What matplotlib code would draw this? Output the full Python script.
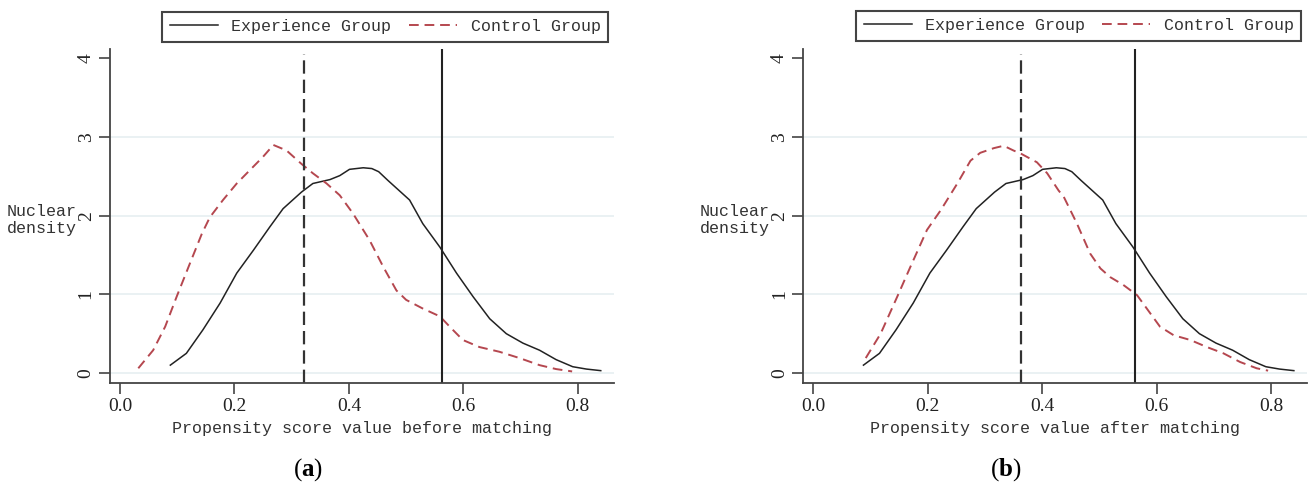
import numpy as np
import matplotlib.pyplot as plt

plt.rcParams['mathtext.fontset'] = 'custom'
plt.rcParams['mathtext.rm'] = 'Liberation Serif'
plt.rcParams['mathtext.bf'] = 'Liberation Serif:bold'

# experience group density (same curve in both panels)
exp_x = [0.088, 0.116, 0.145, 0.175, 0.204, 0.233, 0.262, 0.285, 0.317, 0.337, 0.367,
         0.384, 0.401, 0.425, 0.440, 0.452, 0.468, 0.506, 0.529, 0.559, 0.588, 0.617,
         0.646, 0.675, 0.704, 0.733, 0.762, 0.791, 0.815, 0.840]
exp_y = [0.10, 0.25, 0.55, 0.89, 1.27, 1.56, 1.86, 2.09, 2.30, 2.41, 2.46,
         2.51, 2.59, 2.61, 2.60, 2.56, 2.45, 2.20, 1.90, 1.60, 1.27, 0.97,
         0.69, 0.50, 0.38, 0.29, 0.17, 0.08, 0.05, 0.03]

# control group before matching
ctl_a_x = [0.032, 0.058, 0.079, 0.099, 0.122, 0.143, 0.157, 0.180, 0.204, 0.227, 0.250,
           0.268, 0.291, 0.317, 0.337, 0.361, 0.384, 0.407, 0.436, 0.460, 0.483, 0.500,
           0.529, 0.559, 0.576, 0.599, 0.628, 0.663, 0.698, 0.733, 0.762, 0.790]
ctl_a_y = [0.06, 0.29, 0.59, 0.97, 1.39, 1.77, 1.98, 2.20, 2.41, 2.58, 2.75,
           2.90, 2.83, 2.66, 2.54, 2.41, 2.26, 2.03, 1.69, 1.35, 1.05, 0.93,
           0.82, 0.72, 0.59, 0.42, 0.33, 0.27, 0.19, 0.10, 0.05, 0.02]

# control group after matching
ctl_b_x = [0.092, 0.118, 0.147, 0.170, 0.199, 0.223, 0.252, 0.275, 0.292, 0.316, 0.333,
           0.350, 0.363, 0.391, 0.409, 0.429, 0.438, 0.461, 0.484, 0.502, 0.519, 0.542,
           0.566, 0.583, 0.606, 0.630, 0.659, 0.688, 0.717, 0.746, 0.775, 0.795]
ctl_b_y = [0.19, 0.50, 0.97, 1.35, 1.82, 2.07, 2.41, 2.70, 2.80, 2.86, 2.89,
           2.83, 2.79, 2.68, 2.54, 2.32, 2.24, 1.90, 1.52, 1.33, 1.22, 1.12,
           0.99, 0.82, 0.59, 0.48, 0.42, 0.33, 0.25, 0.14, 0.06, 0.03]

exp_mean = 0.562
ctl_mean_a = 0.322
ctl_mean_b = 0.363

red = '#b5474f'
mono = 'Liberation Mono'
serif = 'Liberation Serif'

fig = plt.figure(figsize=(13.09, 4.84), dpi=100)

panels = [
    (0.084, ctl_a_x, ctl_a_y, ctl_mean_a, 'Propensity score value before matching',
     (0.1238, 0.911, 0.3407, 0.068), r'($\mathbf{a}$)', 0.235),
    (0.6135, ctl_b_x, ctl_b_y, ctl_mean_b, 'Propensity score value after matching',
     (0.654, 0.913, 0.340, 0.068), r'($\mathbf{b}$)', 0.768),
]

for left, cx, cy, cmean, xlabel, legbox, cap, capx in panels:
    ax = fig.add_axes([left, 0.2087, 0.385, 0.690])
    for g in [0, 1, 2, 3]:
        ax.axhline(g, color='#e6eff1', lw=1.2, zorder=0)
    l1, = ax.plot(exp_x, exp_y, color='#222222', lw=1.1, label='Experience Group',
                  solid_joinstyle='round')
    l2, = ax.plot(cx, cy, color=red, lw=1.4, ls=(0, (5, 3)), label='Control Group')
    ax.axvline(cmean, color='#333333', lw=1.6, ls=(0, (6, 2.7)), ymax=0.985)
    ax.axvline(exp_mean, color='#222222', lw=1.5, ymax=1.0)

    ax.set_xlim(-0.0175, 0.863)
    ax.set_ylim(-0.127, 4.12)
    ax.set_xticks([0.0, 0.2, 0.4, 0.6, 0.8])
    ax.set_xticklabels(['0.0', '0.2', '0.4', '0.6', '0.8'], fontfamily=serif, fontsize=14)
    ax.set_yticks([0, 1, 2, 3, 4])
    ax.set_yticklabels(['0', '1', '2', '3', '4'], fontfamily=serif, fontsize=14,
                       rotation=90, va='center')
    ax.tick_params(axis='both', direction='out', length=8, width=1.2,
                   color='#444444', labelcolor='#222222', pad=3)
    for s in ['top', 'right']:
        ax.spines[s].set_visible(False)
    for s in ['left', 'bottom']:
        ax.spines[s].set_color('#444444')
        ax.spines[s].set_linewidth(1.3)

    ax.set_xlabel(xlabel, fontfamily=mono, fontsize=12, color='#333333', labelpad=4)
    ax.set_ylabel('Nuclear\ndensity', fontfamily=mono, fontsize=12, color='#333333',
                  rotation=0, ha='right', va='center', multialignment='left')
    ax.yaxis.set_label_coords(-0.066, 0.488)

    leg = ax.legend(handles=[l1, l2], ncol=2, loc='center', mode='expand',
                    bbox_to_anchor=legbox, bbox_transform=fig.transFigure,
                    prop={'family': mono, 'size': 12}, frameon=True, fancybox=False,
                    edgecolor='#444444', framealpha=1, handlelength=2.9,
                    borderaxespad=0, borderpad=0.45, columnspacing=1.5)
    leg.get_frame().set_linewidth(1.5)
    for t in leg.get_texts():
        t.set_color('#333333')

    fig.text(capx, 0.03, cap, fontfamily=serif, fontsize=18, ha='center', va='center')

fig.savefig('out.png', dpi=100)
